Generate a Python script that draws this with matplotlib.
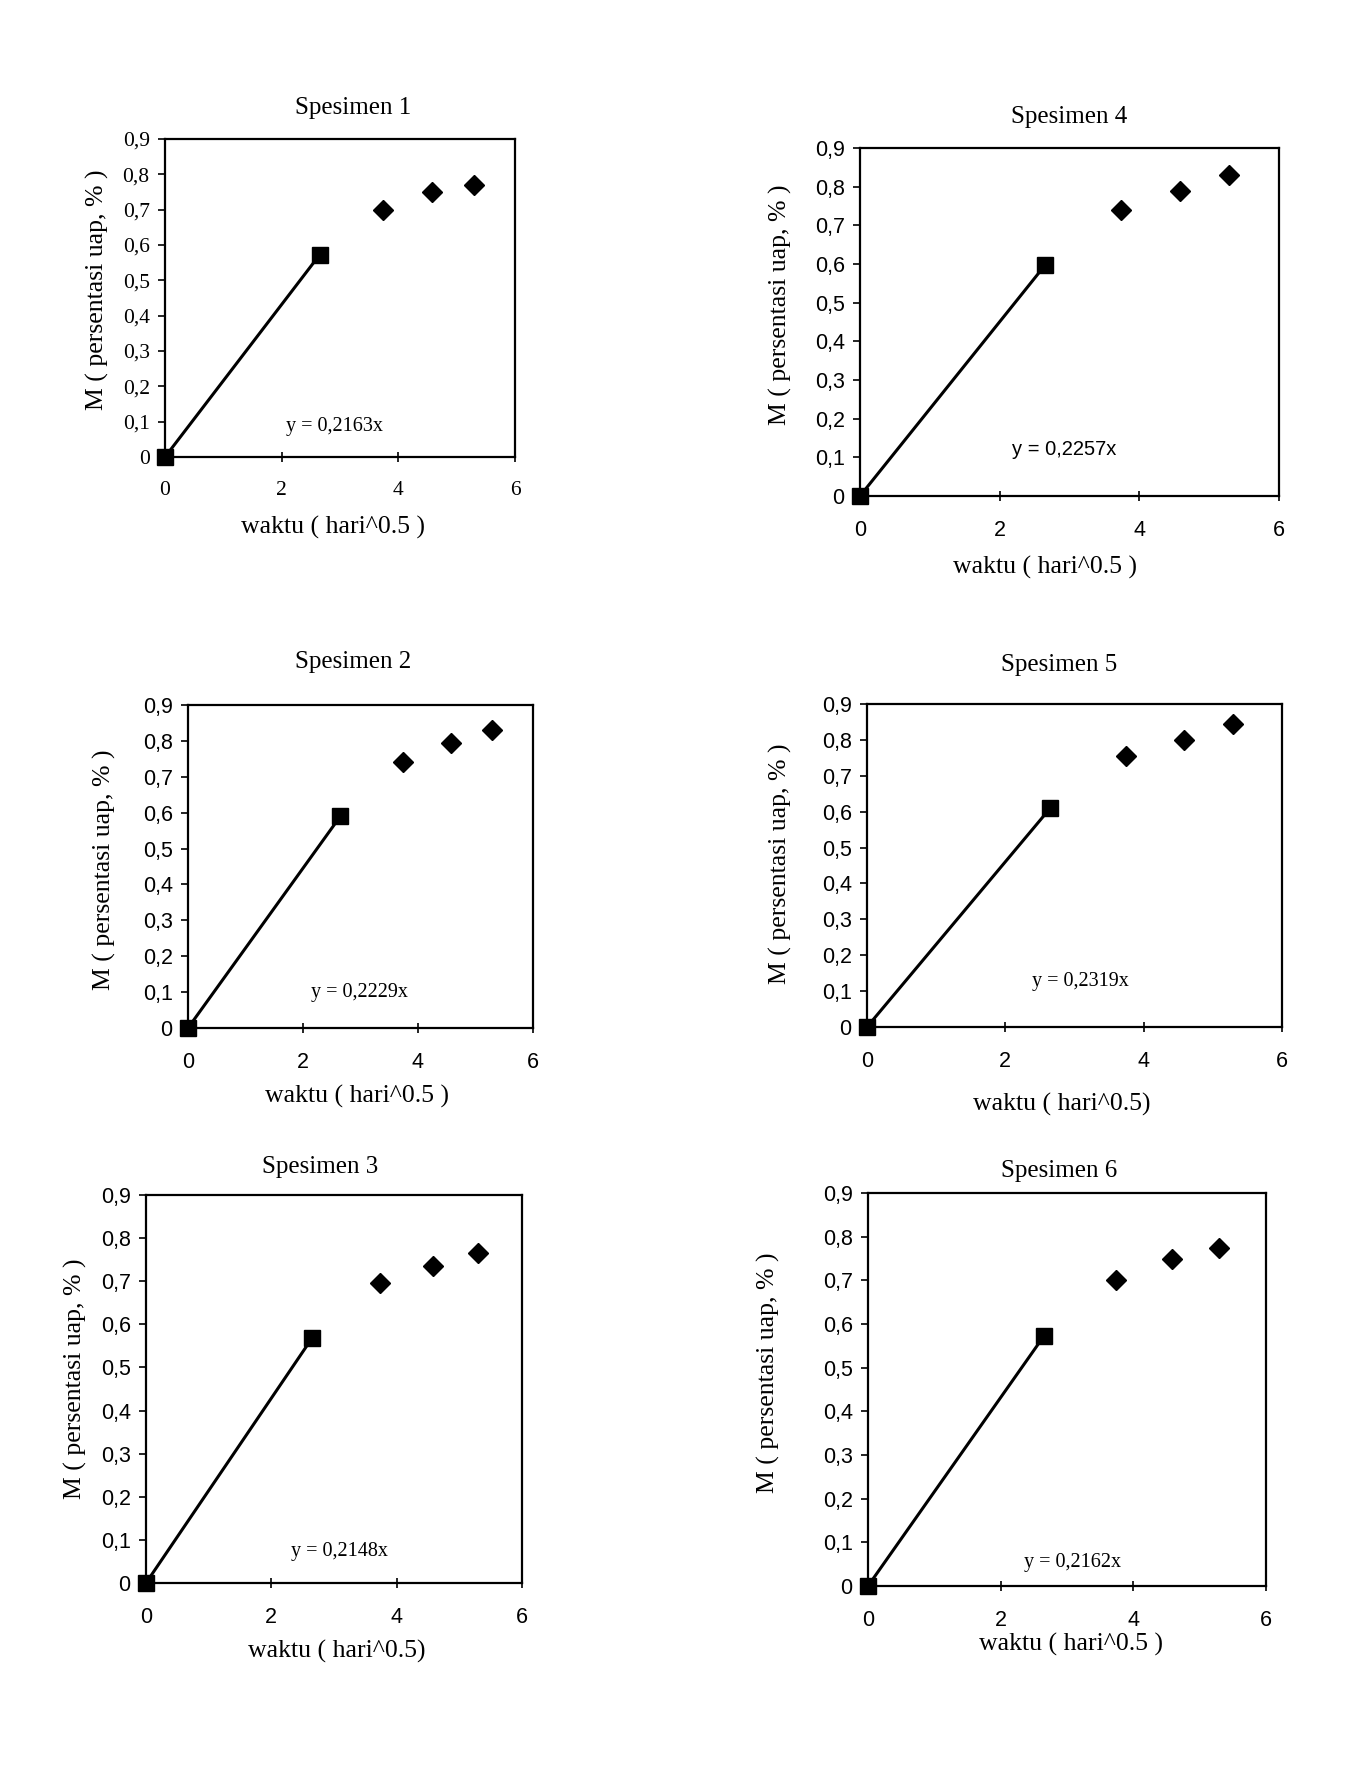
import matplotlib
matplotlib.use("Agg")
import matplotlib.pyplot as plt

#==============================================================================
# Data
#==============================================================================

# waktu ( hari^0.5 ) for every specimen
waktu = [0, 2.65, 3.74, 4.58, 5.29]

spesimen_names = ["Spesimen 1", "Spesimen 2", "Spesimen 3",
                  "Spesimen 4", "Spesimen 5", "Spesimen 6"]

m_sp1 = [0, 0.572, 0.70, 0.75, 0.77]
m_sp2 = [0, 0.59, 0.74, 0.795, 0.83]
m_sp3 = [0, 0.568, 0.695, 0.735, 0.765]
m_sp4 = [0, 0.597, 0.74, 0.79, 0.83]
m_sp5 = [0, 0.61, 0.755, 0.80, 0.845]
m_sp6 = [0, 0.572, 0.70, 0.75, 0.775]

slopes = ["0,2163", "0,2229", "0,2148", "0,2257", "0,2319", "0,2162"]

x_ticks = [0, 2, 4, 6]
y_ticks = [0, 0.1, 0.2, 0.3, 0.4, 0.5, 0.6, 0.7, 0.8, 0.9]
y_ticklabels = ["0", "0,1", "0,2", "0,3", "0,4", "0,5", "0,6", "0,7", "0,8", "0,9"]

xlabel_txt = ["waktu ( hari^0.5 )", "waktu ( hari^0.5 )", "waktu ( hari^0.5)",
              "waktu ( hari^0.5 )", "waktu ( hari^0.5)", "waktu ( hari^0.5 )"]
ylabel_txt = "M ( persentasi uap, % )"

m_all = [m_sp1, m_sp2, m_sp3, m_sp4, m_sp5, m_sp6]

#==============================================================================
# Layout (pixel positions on the 1348 x 1772 page)
#==============================================================================

W, H = 1348, 1772
SERIF = "Liberation Serif"
SANS = "Liberation Sans"

# axes box: left, right, top, bottom
boxes = [(165, 515, 139, 457),
         (188, 533, 705, 1028),
         (146, 522, 1195, 1583),
         (860, 1279, 148, 496),
         (867, 1282, 704, 1027),
         (868, 1266, 1193, 1586)]
title_pos = [(353, 108), (353, 662), (320, 1167),
             (1069, 117), (1059, 665), (1059, 1171)]
xlabel_pos = [(333, 527), (357, 1096), (337, 1651),
              (1045, 567), (1062, 1104), (1071, 1644)]
ylabel_pos = [(97, 290), (104, 870), (75, 1379),
              (780, 305), (780, 864), (768, 1373)]
eq_pos = [(2.91, 0.085), (2.99, 0.10), (3.08, 0.072),
          (2.93, 0.119), (3.09, 0.128), (3.09, 0.053)]
tick_font = [SERIF, SANS, SANS, SANS, SANS, SANS]
eq_font = [SERIF, SERIF, SERIF, SANS, SERIF, SERIF]


def fx(px):
    return px / W


def fy(py):
    return 1 - py / H


fig = plt.figure(figsize=(W / 100, H / 100), dpi=100)
fig.patch.set_facecolor("white")

for i in range(6):
    L, R, T, B = boxes[i]
    ax = fig.add_axes([fx(L), fy(B), (R - L) / W, (B - T) / H])
    m = m_all[i]

    # trendline through the origin and the first measured point
    ax.plot(waktu[:2], m[:2], color="black", lw=2.2, marker="s",
            ms=12, mfc="black", mec="black", clip_on=False, zorder=3)
    ax.plot(waktu[2:], m[2:], ls="none", marker="D", ms=10,
            mfc="black", mec="black", clip_on=False, zorder=3)

    ax.set_xlim(0, 6)
    ax.set_ylim(0, 0.9)
    ax.set_xticks(x_ticks)
    ax.set_xticklabels([str(t) for t in x_ticks])
    ax.set_yticks(y_ticks)
    ax.set_yticklabels(y_ticklabels)
    for lab in ax.get_xticklabels() + ax.get_yticklabels():
        lab.set_fontfamily(tick_font[i])
        lab.set_fontsize(15.5)
    ax.tick_params(axis="x", direction="inout", length=7, width=1.2, pad=14)
    ax.tick_params(axis="y", direction="out", length=5, width=1.2, pad=6)
    for sp in ax.spines.values():
        sp.set_linewidth(1.6)
        sp.set_color("black")

    ax.text(eq_pos[i][0], eq_pos[i][1], "y = " + slopes[i] + "x",
            ha="center", va="center", fontsize=14.5, family=eq_font[i])

    fig.text(fx(title_pos[i][0]), fy(title_pos[i][1]), spesimen_names[i],
             ha="center", va="center", fontsize=18, family=SERIF)
    fig.text(fx(xlabel_pos[i][0]), fy(xlabel_pos[i][1]), xlabel_txt[i],
             ha="center", va="center", fontsize=18.5, family=SERIF)
    fig.text(fx(ylabel_pos[i][0]), fy(ylabel_pos[i][1]), ylabel_txt,
             ha="center", va="center", rotation=90, fontsize=18.5,
             family=SERIF)

fig.savefig("out.png", dpi=100, facecolor="white")
